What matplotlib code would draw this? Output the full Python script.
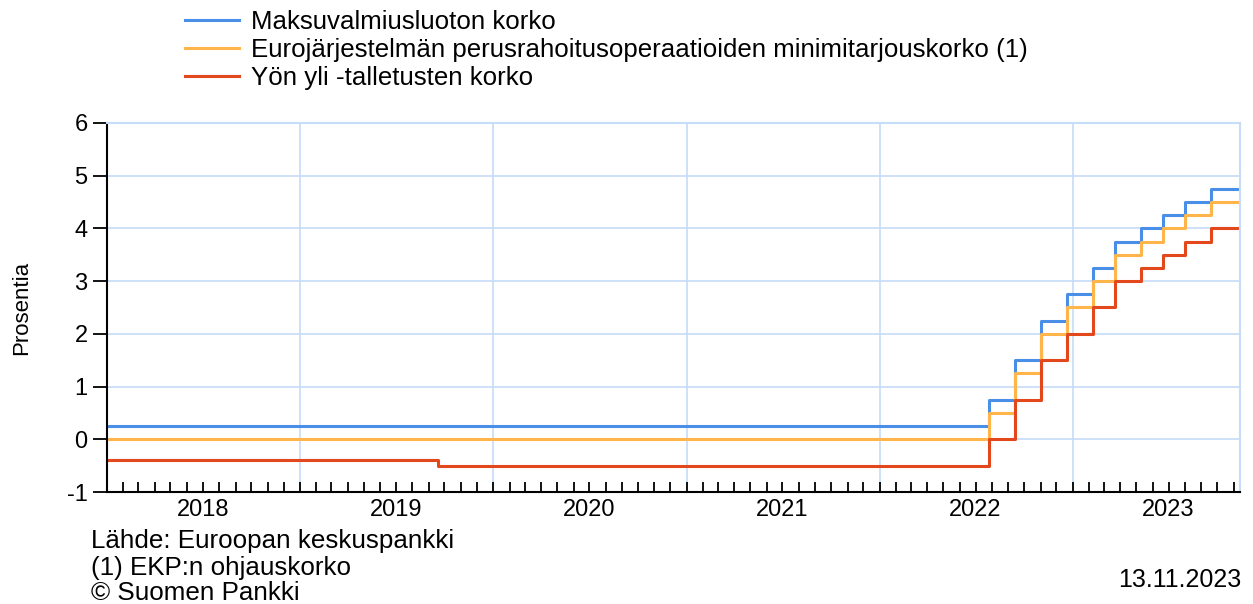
import matplotlib
matplotlib.use("Agg")
from matplotlib import pyplot as plt
import matplotlib.dates as mdates
import numpy as np

plt.rcParams['font.family'] = ['Liberation Sans', 'DejaVu Sans']
plt.rcParams['axes.unicode_minus'] = False

# ECB interest rates, step changes (value valid from date on)
paivat_mlf = ["2018-01-01", "2022-07-27", "2022-09-14", "2022-11-02", "2022-12-21",
              "2023-02-08", "2023-03-22", "2023-05-10", "2023-06-21", "2023-08-02",
              "2023-09-20", "2023-11-13"]
korko_mlf = [0.25, 0.75, 1.50, 2.25, 2.75, 3.25, 3.75, 4.00, 4.25, 4.50, 4.75, 4.75]

paivat_mro = paivat_mlf
korko_mro = [0.00, 0.50, 1.25, 2.00, 2.50, 3.00, 3.50, 3.75, 4.00, 4.25, 4.50, 4.50]

paivat_dfr = ["2018-01-01", "2019-09-18", "2022-07-27", "2022-09-14", "2022-11-02",
              "2022-12-21", "2023-02-08", "2023-03-22", "2023-05-10", "2023-06-21",
              "2023-08-02", "2023-09-20", "2023-11-13"]
korko_dfr = [-0.40, -0.50, 0.00, 0.75, 1.50, 2.00, 2.50, 3.00, 3.25, 3.50, 3.75, 4.00, 4.00]

sarjat = ["Maksuvalmiusluoton korko",
          "Eurojärjestelmän perusrahoitusoperaatioiden minimitarjouskorko (1)",
          "Yön yli -talletusten korko"]
varit = ["#4a8fe7", "#ffb54a", "#e2481c"]
vuodet = [2018, 2019, 2020, 2021, 2022, 2023]

fig = plt.figure(figsize=(12.53, 6.04), dpi=100)
ax = fig.add_axes([0.0854, 0.1854, 0.9042, 0.611])

d = lambda l: np.array(l, dtype="datetime64[D]")
ax.step(d(paivat_mlf), korko_mlf, where="post", color=varit[0], lw=2.2, label=sarjat[0])
ax.step(d(paivat_mro), korko_mro, where="post", color=varit[1], lw=2.2, label=sarjat[1])
ax.step(d(paivat_dfr), korko_dfr, where="post", color=varit[2], lw=2.2, label=sarjat[2])

ax.set_xlim(np.datetime64("2018-01-01"), np.datetime64("2023-11-13"))
ax.set_ylim(-1, 6)
ax.set_yticks(range(-1, 7))
ax.tick_params(axis="y", labelsize=17, length=10, width=1.3, direction="out", pad=4)

ax.xaxis.remove_overlapping_locs = False
ax.xaxis.set_major_locator(mdates.MonthLocator())
ax.xaxis.set_major_formatter(plt.NullFormatter())
ax.tick_params(axis="x", which="major", direction="in", length=7, width=1.3)
ax.set_xticks([np.datetime64(f"{v}-07-01") for v in vuodet], minor=True)
ax.set_xticklabels([str(v) for v in vuodet], minor=True)
ax.tick_params(axis="x", which="minor", length=0, labelsize=17, pad=5)

grid_c = "#c6dcf7"
for v in vuodet[1:]:
    ax.axvline(np.datetime64(f"{v}-01-01"), color=grid_c, lw=1.2, zorder=0)
ax.yaxis.grid(True, color=grid_c, lw=1.2, zorder=0)
ax.set_axisbelow(True)
for s in ["top", "right"]:
    ax.spines[s].set_color(grid_c)
    ax.spines[s].set_linewidth(1.5)
for s in ["left", "bottom"]:
    ax.spines[s].set_linewidth(1.5)

ax.set_ylabel("Prosentia", fontsize=16)
ax.yaxis.set_label_coords(-0.066, 0.5)

fig.legend(loc="upper left", bbox_to_anchor=(0.1476, 0.984), frameon=False,
           fontsize=18.6, handlelength=2.1, labelspacing=0.17, handletextpad=0.45,
           borderpad=0, borderaxespad=0)

fig.text(0.073, 0.104, "Lähde: Euroopan keskuspankki", fontsize=18.7, va="center")
fig.text(0.073, 0.060, "(1) EKP:n ohjauskorko", fontsize=18.7, va="center")
fig.text(0.073, 0.018, "© Suomen Pankki", fontsize=18.7, va="center")
fig.text(0.991, 0.040, "13.11.2023", fontsize=18, va="center", ha="right")

fig.savefig("out.png", dpi=100)
